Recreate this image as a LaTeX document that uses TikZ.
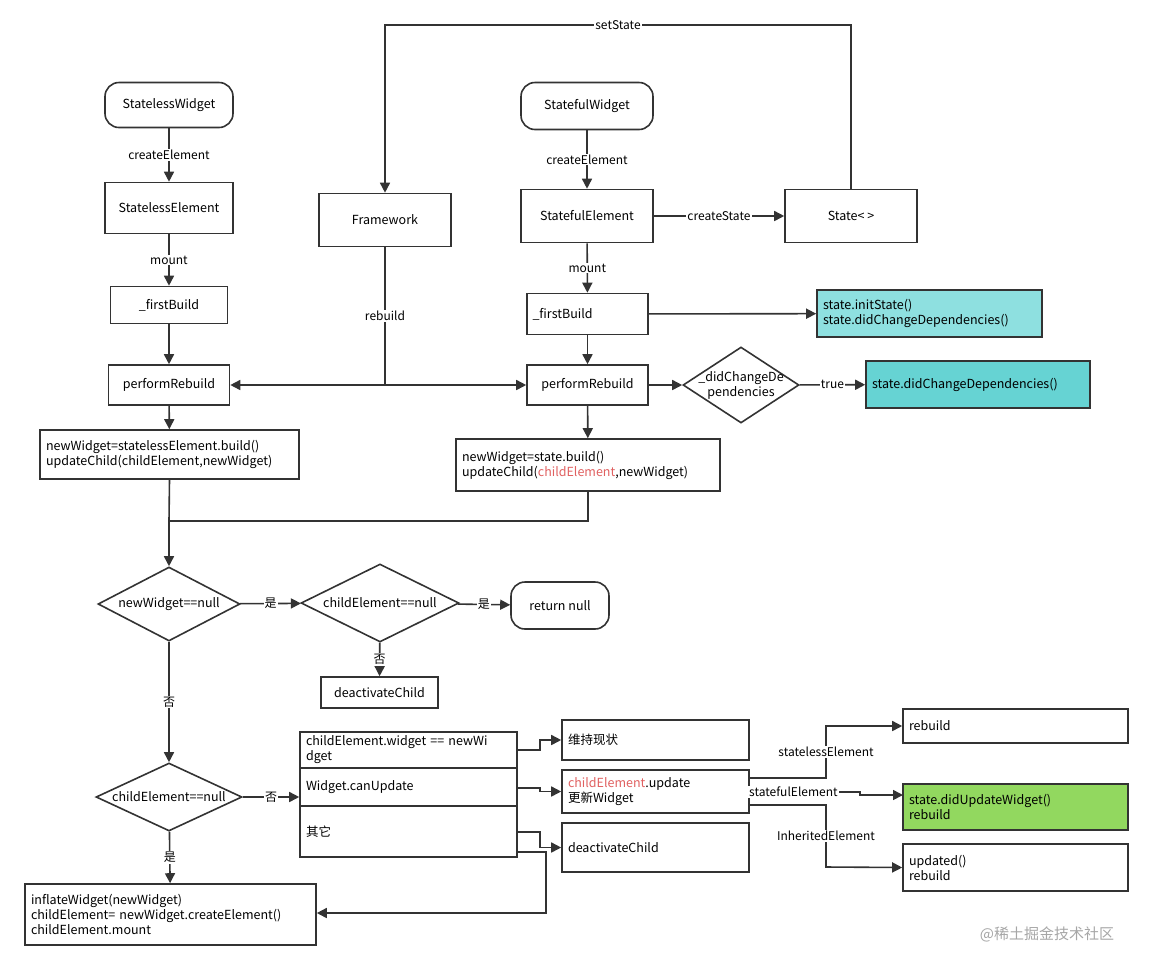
\documentclass[tikz,border=0pt]{standalone}
\usepackage{fontspec}
\setmainfont{Noto Sans CJK SC}
\usetikzlibrary{shapes.geometric,arrows.meta}
\definecolor{ln}{HTML}{333333}
\definecolor{cyanA}{HTML}{8EE0E0}
\definecolor{cyanB}{HTML}{66D3D3}
\definecolor{grn}{HTML}{92D85F}
\definecolor{redt}{HTML}{E06060}
\begin{document}
\begin{tikzpicture}[x=1pt,y=-1pt,font=\fontsize{12.5}{15}\selectfont,
 line width=1.6pt,
 rbox/.style={draw=ln,rounded corners=14pt,align=center},
 dia/.style={draw=ln,diamond,inner sep=0pt,text width=0pt,minimum width=#1},
 arr/.style={draw=ln,-{Triangle[length=10pt,width=10pt]}},
 con/.style={draw=ln},
 lab/.style={fill=white,inner sep=1pt,font=\fontsize{12}{14}\selectfont}]
\useasboundingbox (0,0) rectangle (1153,970);
% left column
\node[rbox,minimum width=128pt,minimum height=45pt] (slw) at (169,105) {StatelessWidget};
\node[draw=ln,minimum width=128pt,minimum height=51pt] (sle) at (169,208) {StatelessElement};
\node[draw=ln,minimum width=117pt,minimum height=37pt] (fb1) at (169,305) {\_firstBuild};
\node[draw=ln,minimum width=121pt,minimum height=40pt] (pr1) at (169,385) {performRebuild};
\node[draw=ln,minimum width=259pt,minimum height=49pt,align=left,text width=247pt] (nw1) at (169.5,454.5) {newWidget=statelessElement.build()\\updateChild(childElement,newWidget)};
% framework
\node[draw=ln,minimum width=132pt,minimum height=53pt] (fw) at (385,220) {Framework};
% right column
\node[rbox,minimum width=132pt,minimum height=47pt] (sfw) at (587,106) {StatefulWidget};
\node[draw=ln,minimum width=132pt,minimum height=53pt] (sfe) at (587,216) {StatefulElement};
\node[draw=ln,minimum width=132pt,minimum height=53pt] (st) at (851,216) {State< >};
\node[draw=ln,minimum width=121pt,minimum height=41pt,text width=110pt,align=left] (fb2) at (587.5,314) {\_firstBuild};
\node[draw=ln,fill=cyanA,minimum width=225pt,minimum height=47pt,text width=213pt,align=left] (init) at (929.5,313.5) {state.initState()\\state.didChangeDependencies()};
\node[draw=ln,minimum width=121pt,minimum height=40pt] (pr2) at (587.5,385) {performRebuild};
\node[dia=116pt,minimum height=76pt,label={[align=center]center:\_didChangeDe\\pendencies}] (dcd) at (741,385) {};
\node[draw=ln,fill=cyanB,minimum width=224pt,minimum height=47pt,text width=212pt,align=left] (dcd2) at (978,384.5) {state.didChangeDependencies()};
\node[draw=ln,minimum width=264pt,minimum height=52pt,text width=252pt,align=left] (nw2) at (588,465) {newWidget=state.build()\\updateChild(\textcolor{redt}{childElement},newWidget)};
% decisions
\node[dia=142pt,minimum height=74pt,label={center:{newWidget==null}}] (d1) at (169,604) {};
\node[dia=158pt,minimum height=78pt,label={center:{childElement==null}}] (d2) at (380,603) {};
\node[rbox,minimum width=98pt,minimum height=47pt] (rn) at (560,605.5) {return null};
\node[draw=ln,minimum width=117pt,minimum height=31pt] (dc1) at (379.5,692.5) {deactivateChild};
\node[dia=146pt,minimum height=68pt,label={center:{childElement==null}}] (d3) at (169,797) {};
\node[draw=ln,minimum width=291pt,minimum height=61pt,text width=279pt,align=left] (inf) at (170.5,914.5) {inflateWidget(newWidget)\\childElement= newWidget.createElement()\\childElement.mount};
% table
\node[draw=ln,minimum width=217pt,minimum height=36pt,text width=205pt,align=left] (r1) at (408.5,750) {childElement.widget == newWi\\dget};
\node[draw=ln,minimum width=217pt,minimum height=38pt,text width=205pt,align=left] (r2) at (408.5,787) {Widget.canUpdate};
\node[draw=ln,minimum width=217pt,minimum height=51pt,text width=205pt,align=left] (r3) at (408.5,831.5) {其它\\[6pt]};
\node[draw=ln,minimum width=187pt,minimum height=40pt,text width=175pt,align=left] (wc) at (655.5,740) {维持现状};
\node[draw=ln,minimum width=187pt,minimum height=43pt,text width=175pt,align=left] (up) at (655.5,791.5) {\textcolor{redt}{childElement}.update\\更新Widget};
\node[draw=ln,minimum width=187pt,minimum height=49pt,text width=175pt,align=left] (dc2) at (655.5,847.5) {deactivateChild};
\node[draw=ln,minimum width=225pt,minimum height=34pt,text width=213pt,align=left] (rb) at (1015.5,726) {rebuild};
\node[draw=ln,fill=grn,minimum width=225pt,minimum height=46pt,text width=213pt,align=left] (duw) at (1015.5,807) {state.didUpdateWidget()\\rebuild};
\node[draw=ln,minimum width=225pt,minimum height=47pt,text width=213pt,align=left] (upd) at (1015.5,867.5) {updated()\\rebuild};
\node[text=gray!70,font=\fontsize{15}{17}\selectfont] (wm) at (1047,934) {@稀土掘金技术社区};
% coordinates
\coordinate (ss1) at (851,25); \coordinate (ss2) at (385,25);
\coordinate (fwr) at (385,385);
\coordinate (m1) at (169,521); \coordinate (m2) at (588,521);
% edges
\draw[arr] (slw) -- node[lab]{createElement} (sle);
\draw[arr] (sle) -- node[lab]{mount} (fb1);
\draw[arr] (fb1) -- (pr1);
\draw[arr] (pr1) -- (nw1);
\draw[arr] (sfw) -- node[lab]{createElement} (sfe);
\draw[arr] (sfe) -- node[lab]{createState} (st);
\draw[arr] (sfe) -- node[lab]{mount} (fb2);
\draw[arr] (fb2) -- (init);
\draw[arr] (fb2) -- (pr2);
\draw[arr] (pr2) -- (dcd);
\draw[arr] (dcd) -- node[lab]{true} (dcd2);
\draw[arr] (pr2) -- (nw2);
\draw[arr] (st.north) -- (ss1) -- node[lab]{setState} (ss2) -- (fw.north);
\draw[con] (fw.south) -- node[lab]{rebuild} (fwr);
\draw[arr] (fwr) -- (pr1.east);
\draw[arr] (fwr) -- (pr2.west);
\draw[con] (nw1.south) -- (m1);
\draw[con] (nw2.south) -- (m2) -- (m1);
\draw[arr] (m1) -- (d1.north);
\draw[arr] (d1) -- node[lab]{是} (d2);
\draw[arr] (d2) -- node[lab]{是} (rn);
\draw[arr] (d2) -- node[lab]{否} (dc1);
\draw[arr] (d1) -- node[lab]{否} (d3);
\draw[arr] (d3.east) -- node[lab]{否} (r2.west |- d3.east);
\draw[arr] (d3) -- node[lab]{是} (inf);
\draw[arr] (517,750) -- (540,750) -- (540,740) -- (wc.west);
\draw[arr] (517,788) -- (540,788) -- (540,791.5) -- (up.west);
\draw[arr] (517,832) -- (540,832) -- (540,847.5) -- (dc2.west);
\draw[arr] (517,852) -- (546,852) -- (546,913) -- (inf.east |- 0,913);
\draw[arr] (749,778) -- (826,778) -- node[lab]{statelessElement} (826,726) -- (rb.west);
\draw[arr] (749,792) -- node[lab,pos=0.4]{statefulElement} (860,792) -- (860,795) -- (903,795);
\draw[arr] (749,805) -- (826,805) -- node[lab]{InheritedElement} (826,867) -- (upd.west);
\end{tikzpicture}
\end{document}
